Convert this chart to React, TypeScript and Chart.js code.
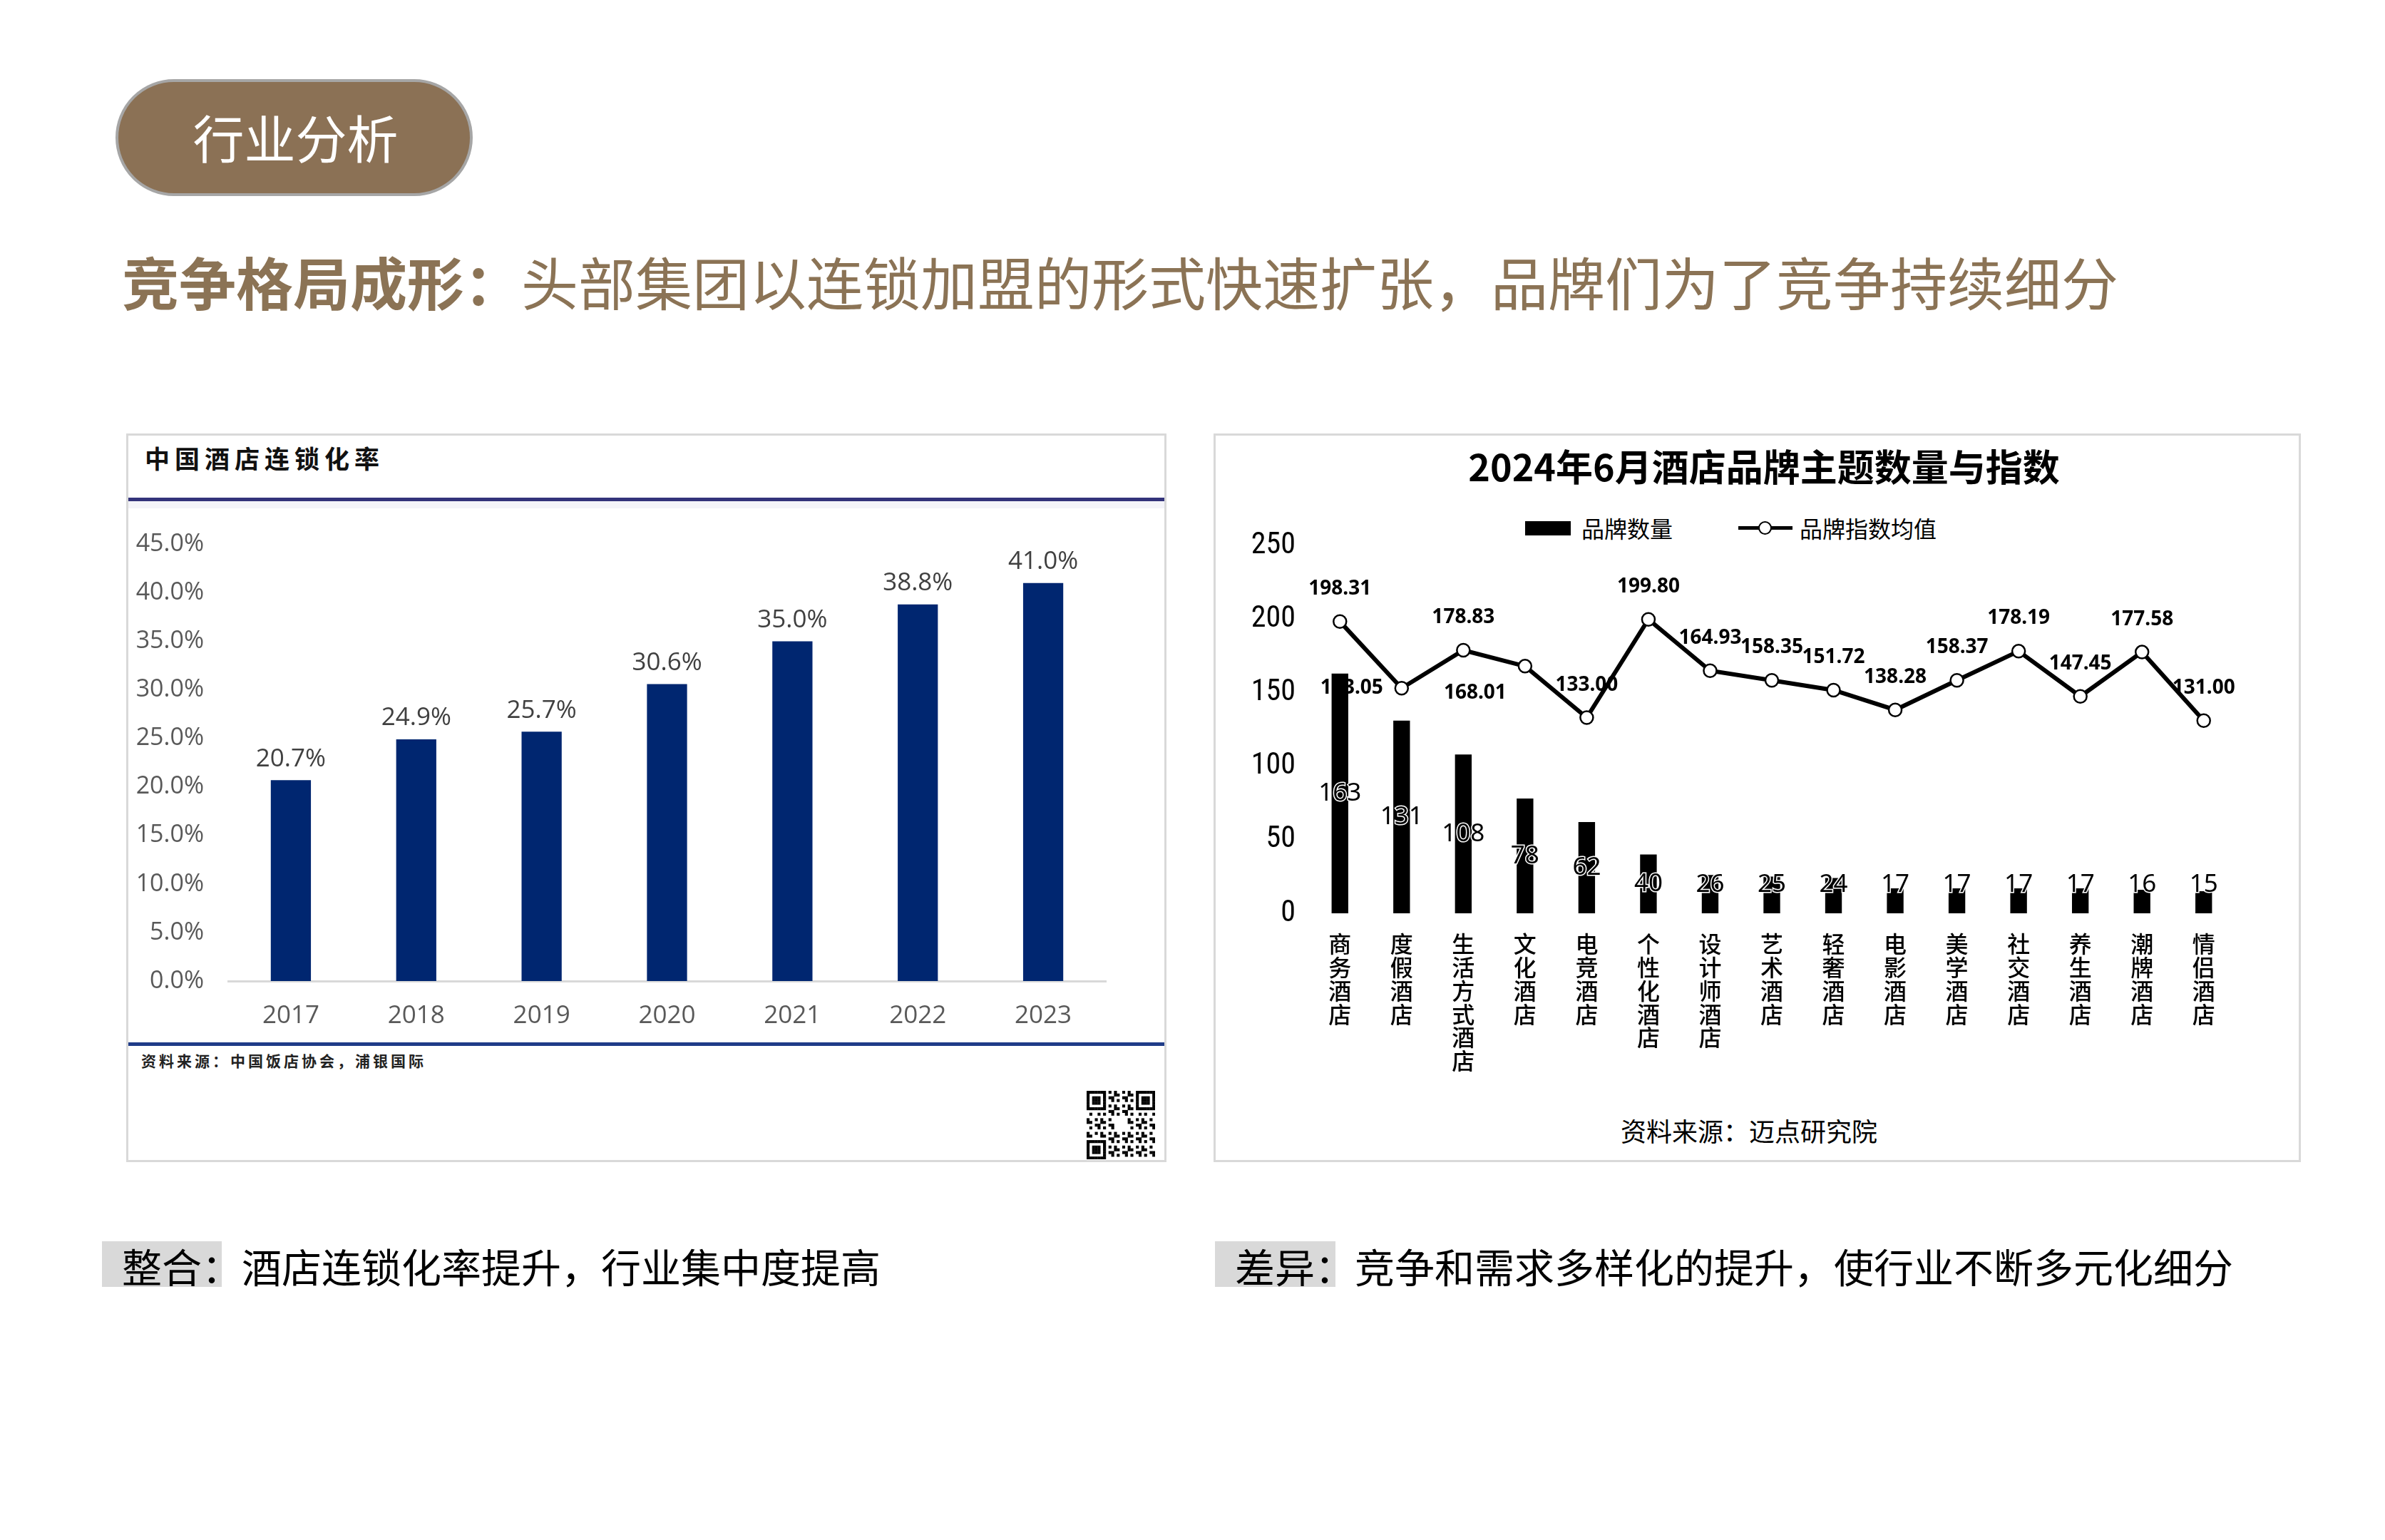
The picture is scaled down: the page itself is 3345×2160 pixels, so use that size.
import React, { useEffect, useRef } from "react";
import { Chart, registerables } from "chart.js";
Chart.register(...registerables);

// ---------- Data: left chart ----------
const rateYears = ["2017", "2018", "2019", "2020", "2021", "2022", "2023"];
const rateValues = [20.7, 24.9, 25.7, 30.6, 35.0, 38.8, 41.0];
const rateYTicks = [0, 5, 10, 15, 20, 25, 30, 35, 40, 45];

// ---------- Data: right chart ----------
const themeCategories = [
  "商务酒店", "度假酒店", "生活方式酒店", "文化酒店", "电竞酒店",
  "个性化酒店", "设计师酒店", "艺术酒店", "轻奢酒店", "电影酒店",
  "美学酒店", "社交酒店", "养生酒店", "潮牌酒店", "情侣酒店",
];
const brandCounts = [163, 131, 108, 78, 62, 40, 26, 25, 24, 17, 17, 17, 17, 16, 15];
const brandIndex = [198.31, 153.05, 178.83, 168.01, 133.0, 199.8, 164.93, 158.35, 151.72, 138.28, 158.37, 178.19, 147.45, 177.58, 131.0];
const indexYTicks = [0, 50, 100, 150, 200, 250];
// placement of the index value labels
const indexLabelPlace = ["above", "left", "above", "belowLeft", "above", "above", "above", "above", "above", "above", "above", "above", "above", "above", "above"];

const CJK = "'Noto Sans CJK SC', 'Noto Sans', sans-serif";
const BROWN = "#8B7355";
const LATIN = "'Open Sans', 'Noto Sans', sans-serif";

function RateChart() {
  const ref = useRef<HTMLCanvasElement>(null);
  useEffect(() => {
    const labelPlugin = {
      id: "rateLabels",
      afterDatasetsDraw(chart: any) {
        const ctx = chart.ctx;
        const meta = chart.getDatasetMeta(0);
        ctx.save();
        ctx.font = "35px " + LATIN;
        ctx.fillStyle = "#404040";
        ctx.textAlign = "center";
        ctx.textBaseline = "bottom";
        meta.data.forEach((el: any, i: number) => {
          ctx.fillText(rateValues[i].toFixed(1) + "%", el.x, el.y - 12);
        });
        ctx.restore();
      },
    };
    const chart = new Chart(ref.current as HTMLCanvasElement, {
      type: "bar",
      data: {
        labels: rateYears,
        datasets: [
          {
            data: rateValues,
            backgroundColor: "#002670",
            barPercentage: 0.32,
            categoryPercentage: 1,
          },
        ],
      },
      options: {
        animation: false,
        responsive: false,
        maintainAspectRatio: false,
        layout: { padding: { top: 12, right: 15, left: 0, bottom: 0 } },
        plugins: { legend: { display: false }, tooltip: { enabled: false } },
        scales: {
          x: {
            grid: { display: false, drawTicks: false },
            border: { display: true, color: "#D9D9D9", width: 3 },
            ticks: {
              color: "#595959",
              font: { family: LATIN, size: 35 },
              padding: 28,
              maxRotation: 0,
              minRotation: 0,
            },
            afterFit(s: any) {
              s.height = 84;
            },
          },
          y: {
            min: 0,
            max: 45,
            grid: { display: false, drawTicks: false },
            border: { display: false },
            ticks: {
              color: "#595959",
              font: { family: LATIN, size: 34 },
              padding: 34,
              callback: (v: any) => Number(v).toFixed(1) + "%",
            },
            afterBuildTicks(s: any) {
              s.ticks = rateYTicks.map((v) => ({ value: v }));
            },
            afterFit(s: any) {
              s.width = 134;
            },
          },
        },
      },
      plugins: [labelPlugin],
    } as any);
    return () => chart.destroy();
  }, []);
  return (
    <canvas
      ref={ref}
      width={1380}
      height={751}
      style={{ position: "absolute", left: 186, top: 709, width: 1380, height: 751 }}
    />
  );
}

function ThemeChart() {
  const ref = useRef<HTMLCanvasElement>(null);
  useEffect(() => {
    const labelPlugin = {
      id: "themeLabels",
      afterDatasetsDraw(chart: any) {
        const ctx = chart.ctx;
        // bar labels (center, clamped above axis)
        const barMeta = chart.getDatasetMeta(0);
        ctx.save();
        ctx.font = "35px 'Noto Sans', sans-serif";
        ctx.textAlign = "center";
        ctx.textBaseline = "middle";
        ctx.lineWidth = 3;
        ctx.strokeStyle = "#ffffff";
        ctx.fillStyle = "#000000";
        barMeta.data.forEach((el: any, i: number) => {
          const y = Math.min((el.y + el.base) / 2, el.base - 40);
          const t = String(brandCounts[i]);
          ctx.strokeText(t, el.x, y);
          ctx.fillText(t, el.x, y);
        });
        ctx.restore();

        // line labels
        const lineMeta = chart.getDatasetMeta(1);
        ctx.save();
        ctx.font = "bold 28px 'Noto Sans', sans-serif";
        ctx.fillStyle = "#000000";
        ctx.textBaseline = "middle";
        lineMeta.data.forEach((el: any, i: number) => {
          const t = brandIndex[i].toFixed(2);
          const place = indexLabelPlace[i];
          if (place === "left") {
            ctx.textAlign = "right";
            ctx.fillText(t, el.x - 26, el.y);
          } else if (place === "belowLeft") {
            ctx.textAlign = "right";
            ctx.fillText(t, el.x - 26, el.y + 38);
          } else {
            ctx.textAlign = "center";
            ctx.fillText(t, el.x, el.y - 46);
          }
        });
        ctx.restore();
      },
    };
    const chart = new Chart(ref.current as HTMLCanvasElement, {
      type: "bar",
      data: {
        labels: themeCategories.map((c) => c.split("")),
        datasets: [
          {
            type: "bar",
            label: "品牌数量",
            data: brandCounts,
            backgroundColor: "#000000",
            barPercentage: 0.27,
            categoryPercentage: 1,
            order: 2,
          },
          {
            type: "line",
            label: "品牌指数均值",
            data: brandIndex,
            borderColor: "#000000",
            borderWidth: 6,
            pointRadius: 9,
            pointBackgroundColor: "#ffffff",
            pointBorderColor: "#000000",
            pointBorderWidth: 2.5,
            tension: 0,
            order: 1,
          },
        ],
      },
      options: {
        animation: false,
        responsive: false,
        maintainAspectRatio: false,
        layout: { padding: { top: 23, right: 26, left: 0, bottom: 0 } },
        plugins: { legend: { display: false }, tooltip: { enabled: false } },
        scales: {
          x: {
            grid: { display: false, drawTicks: false },
            border: { display: false },
            ticks: {
              color: "#000000",
              font: { family: CJK, size: 32, weight: "500", lineHeight: 1.03 },
              padding: 26,
              maxRotation: 0,
              minRotation: 0,
              autoSkip: false,
            },
            afterFit(s: any) {
              s.height = 239;
            },
          },
          y: {
            min: 0,
            max: 250,
            grid: { display: false, drawTicks: false },
            border: { display: false },
            ticks: {
              color: "#000000",
              font: { family: "'Liberation Sans Narrow', 'Roboto Condensed', 'Noto Sans', sans-serif", size: 42 },
              padding: 19,
            },
            afterBuildTicks(s: any) {
              s.ticks = indexYTicks.map((v) => ({ value: v }));
            },
            afterFit(s: any) {
              s.width = 96;
            },
          },
        },
      },
      plugins: [labelPlugin],
    } as any);
    return () => chart.destroy();
  }, []);
  return (
    <canvas
      ref={ref}
      width={1420}
      height={799}
      style={{ position: "absolute", left: 1740, top: 721, width: 1420, height: 799 }}
    />
  );
}

function QRCode({ left, top, size }: { left: number; top: number; size: number }) {
  const n = 25;
  const cell = size / n;
  const rects: any[] = [];
  for (let r = 0; r < n; r++) {
    for (let c = 0; c < n; c++) {
      const fr = r < 7 ? r : r >= n - 7 ? r - (n - 7) : -1;
      const fc = c < 7 ? c : c >= n - 7 ? c - (n - 7) : -1;
      const inFinder = fr >= 0 && fc >= 0 && !(r >= n - 7 && c >= n - 7);
      const inSep = (r < 8 && c < 8) || (r < 8 && c >= n - 8) || (r >= n - 8 && c < 8);
      const inLogo = r >= 10 && r <= 14 && c >= 10 && c <= 14;
      let on = false;
      if (inFinder) {
        on = fr === 0 || fr === 6 || fc === 0 || fc === 6 || (fr >= 2 && fr <= 4 && fc >= 2 && fc <= 4);
      } else if (inSep || inLogo) {
        on = false;
      } else {
        on = (r * 31 + c * 17 + r * c * 7) % 5 < 2;
      }
      if (on) rects.push(<rect key={r + "-" + c} x={c * cell} y={r * cell} width={cell + 0.3} height={cell + 0.3} fill="#000" />);
    }
  }
  return (
    <svg style={{ position: "absolute", left, top }} width={size} height={size}>
      {rects}
    </svg>
  );
}

export default function App() {
  return (
    <div
      style={{
        position: "fixed",
        left: 0,
        top: 0,
        width: 3345,
        height: 2160,
        background: "#ffffff",
        overflow: "hidden",
        fontFamily: CJK,
      }}
    >
      {/* pill */}
      <div
        style={{
          position: "absolute",
          left: 162,
          top: 111,
          width: 501,
          height: 164,
          boxSizing: "border-box",
          borderRadius: 82,
          border: "4px solid #A6A6A6",
          background: "#8B7155",
          color: "#ffffff",
          fontSize: 72,
          lineHeight: "152px",
          textAlign: "center",
          paddingLeft: 4,
        }}
      >
        行业分析
      </div>

      {/* headline */}
      <div
        style={{
          position: "absolute",
          left: 171,
          top: 351,
          fontSize: 80,
          lineHeight: "84px",
          color: BROWN,
          whiteSpace: "nowrap",
        }}
      >
        <span style={{ fontWeight: 700 }}>竞争格局成形：</span>头部集团以连锁加盟的形式快速扩张，品牌们为了竞争持续细分
      </div>

      {/* left panel */}
      <div
        style={{
          position: "absolute",
          left: 177,
          top: 608,
          width: 1459,
          height: 1022,
          boxSizing: "border-box",
          border: "3px solid #D9D9D9",
          background: "#fff",
        }}
      />
      <div
        style={{
          position: "absolute",
          left: 203,
          top: 620,
          fontSize: 35,
          lineHeight: "44px",
          letterSpacing: 7,
          fontWeight: 700,
          color: "#111",
          whiteSpace: "nowrap",
        }}
      >
        中国酒店连锁化率
      </div>
      <div style={{ position: "absolute", left: 180, top: 698, width: 1453, height: 5, background: "#33337A" }} />
      <div style={{ position: "absolute", left: 180, top: 703, width: 1453, height: 10, background: "#F4F4F9" }} />
      <div style={{ position: "absolute", left: 180, top: 1462, width: 1453, height: 5, background: "#1F3C88" }} />
      <div
        style={{
          position: "absolute",
          left: 198,
          top: 1474,
          fontSize: 21,
          lineHeight: "26px",
          letterSpacing: 4,
          fontWeight: 700,
          color: "#222",
          whiteSpace: "nowrap",
        }}
      >
        资料来源：中国饭店协会，浦银国际
      </div>
      <QRCode left={1524} top={1530} size={96} />
      <RateChart />

      {/* right panel */}
      <div
        style={{
          position: "absolute",
          left: 1702,
          top: 608,
          width: 1525,
          height: 1022,
          boxSizing: "border-box",
          border: "3px solid #D9D9D9",
          background: "#fff",
        }}
      />
      <div
        style={{
          position: "absolute",
          left: 1974,
          top: 620,
          width: 1000,
          textAlign: "center",
          fontSize: 52,
          lineHeight: "66px",
          fontWeight: 700,
          color: "#000",
          whiteSpace: "nowrap",
        }}
      >
        2024年6月酒店品牌主题数量与指数
      </div>
      {/* legend */}
      <div style={{ position: "absolute", left: 2139, top: 731, width: 64, height: 20, background: "#000" }} />
      <div style={{ position: "absolute", left: 2218, top: 720, fontSize: 32, lineHeight: "40px", color: "#000", whiteSpace: "nowrap" }}>
        品牌数量
      </div>
      <div style={{ position: "absolute", left: 2438, top: 738, width: 76, height: 5, background: "#000" }} />
      <div
        style={{
          position: "absolute",
          left: 2466,
          top: 731,
          width: 19,
          height: 19,
          boxSizing: "border-box",
          borderRadius: "50%",
          border: "2.5px solid #000",
          background: "#fff",
        }}
      />
      <div style={{ position: "absolute", left: 2524, top: 720, fontSize: 32, lineHeight: "40px", color: "#000", whiteSpace: "nowrap" }}>
        品牌指数均值
      </div>
      <ThemeChart />
      <div
        style={{
          position: "absolute",
          left: 1953,
          top: 1563,
          width: 1000,
          textAlign: "center",
          fontSize: 36,
          lineHeight: "44px",
          color: "#000",
          whiteSpace: "nowrap",
        }}
      >
        资料来源：迈点研究院
      </div>

      {/* captions */}
      <div style={{ position: "absolute", left: 143, top: 1741, width: 168, height: 64, background: "#D9D9D9" }} />
      <div style={{ position: "absolute", left: 171, top: 1745, fontSize: 56, lineHeight: "60px", color: "#000", whiteSpace: "nowrap" }}>
        整合：酒店连锁化率提升，行业集中度提高
      </div>
      <div style={{ position: "absolute", left: 1704, top: 1741, width: 169, height: 64, background: "#D9D9D9" }} />
      <div style={{ position: "absolute", left: 1732, top: 1745, fontSize: 56, lineHeight: "60px", color: "#000", whiteSpace: "nowrap" }}>
        差异：竞争和需求多样化的提升，使行业不断多元化细分
      </div>
    </div>
  );
}
